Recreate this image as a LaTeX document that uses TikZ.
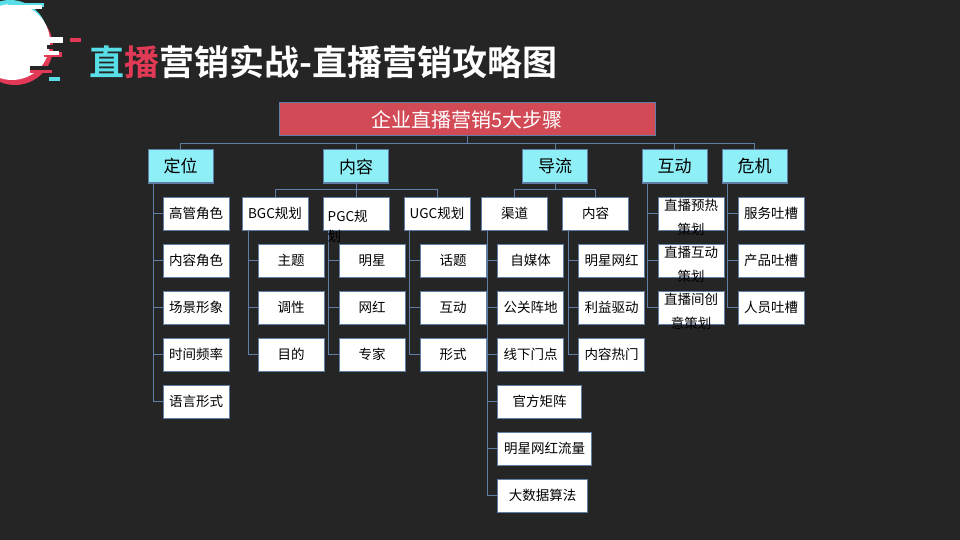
\documentclass[tikz,border=0pt]{standalone}
\usepackage{fontspec}
\setmainfont{Noto Sans CJK SC}[BoldFont={Noto Sans CJK SC Bold}]
\usetikzlibrary{positioning}
\definecolor{bgdark}{RGB}{37,37,37}
\definecolor{rootred}{RGB}{210,74,86}
\definecolor{catcyan}{RGB}{142,240,246}
\definecolor{linkblue}{RGB}{95,125,165}
\definecolor{logocyan}{RGB}{88,222,230}
\definecolor{logored}{RGB}{226,58,86}

\begin{document}
\begin{tikzpicture}[x=1pt, y=-1pt,
    node distance=13pt and 14pt,
    root/.style={draw=linkblue, line width=1pt, fill=rootred, text=white, minimum width=376pt, minimum height=33pt, font=\fontsize{20}{22}\selectfont},
    cat/.style={draw=linkblue, line width=1pt, fill=catcyan, minimum width=65pt, minimum height=33pt, inner sep=1pt, font=\fontsize{17}{20}\selectfont},
    leaf/.style={draw=linkblue, line width=1pt, fill=white, minimum width=66pt, minimum height=33pt, inner sep=1pt, font=\fontsize{13.5}{16}\selectfont},
    wrap/.style={align=center, inner sep=0pt, yshift=-4pt, font=\fontsize{13.5}{24}\selectfont},
    link/.style={draw=linkblue, line width=1pt}]
  \useasboundingbox (0,0) rectangle (960,540);
  \fill[bgdark] (0,0) rectangle (960,540);
  % logo
  \begin{scope}
    \clip (0,0) rectangle (960,540);
    \fill[logored] (15,47) circle (38);
    \fill[logocyan] (10,38) circle (38);
    \fill[white] (12,42) circle (38);
    \fill[logocyan] (8,3) rectangle (44,7);
    \fill[white] (8,5) rectangle (42,9);
    \fill[white] (40,37) rectangle (63,43);
    \fill[logored] (70,38) rectangle (81,42);
    \fill[bgdark] (47,45) rectangle (58,49);
    \fill[logored] (44,52) rectangle (62,57);
    \fill[white] (44,51) rectangle (59,55);
    \fill[bgdark] (30,66) rectangle (56,70);
    \fill[logored] (30,70) rectangle (52,73);
    \fill[logocyan] (49,77) rectangle (60,81);
  \end{scope}
  % title
  \node[anchor=west, inner sep=0pt, text=white, font=\bfseries\fontsize{35}{40}\selectfont] (title) at (89,62)
       {{\color{logocyan}直}{\color{logored}播}营销实战-直播营销攻略图};
  % steps
  \node[root] (root) at (467,119.5) {企业直播营销5大步骤};
  \node[cat] (dw) at (180.5,166.5) {定位};
  \node[cat] (nr) at (356,166.5) {内容};
  \node[cat] (dl) at (555,166.5) {导流};
  \node[cat] (hd) at (674.5,166.5) {互动};
  \node[cat] (wj) at (754.5,166.5) {危机};
  \draw[link] (root.south) -- ++(0pt,-7pt) -| (dw.north);
  \draw[link] (root.south) -- ++(0pt,-7pt) -| (nr.north);
  \draw[link] (root.south) -- ++(0pt,-7pt) -| (dl.north);
  \draw[link] (root.south) -- ++(0pt,-7pt) -| (hd.north);
  \draw[link] (root.south) -- ++(0pt,-7pt) -| (wj.north);
  % 定位
  \node[leaf, below right=13pt and 15pt of dw.south west] (dw1) {高管角色};
  \node[leaf, below=of dw1] (dw2) {内容角色};
  \node[leaf, below=of dw2] (dw3) {场景形象};
  \node[leaf, below=of dw3] (dw4) {时间频率};
  \node[leaf, below=of dw4] (dw5) {语言形式};
  \draw[link] ([xshift=6pt]dw.south west) |- (dw1.west);
  \draw[link] ([xshift=6pt]dw.south west) |- (dw2.west);
  \draw[link] ([xshift=6pt]dw.south west) |- (dw3.west);
  \draw[link] ([xshift=6pt]dw.south west) |- (dw4.west);
  \draw[link] ([xshift=6pt]dw.south west) |- (dw5.west);
  % 内容
  \node[leaf, below=of nr] (pgc) {};
  \node[leaf, left=of pgc] (bgc) {BGC规划};
  \node[leaf, right=of pgc] (ugc) {UGC规划};
  \draw[link] (nr.south) -- ++(0pt,-6pt) -| (bgc.north);
  \draw[link] (nr.south) -- (pgc.north);
  \draw[link] (nr.south) -- ++(0pt,-6pt) -| (ugc.north);
  \node[leaf, below right=13pt and 16pt of bgc.south west] (bgc1) {主题};
  \node[leaf, below=of bgc1] (bgc2) {调性};
  \node[leaf, below=of bgc2] (bgc3) {目的};
  \draw[link] ([xshift=7pt]bgc.south west) |- (bgc1.west);
  \draw[link] ([xshift=7pt]bgc.south west) |- (bgc2.west);
  \draw[link] ([xshift=7pt]bgc.south west) |- (bgc3.west);
  \node[leaf, below right=13pt and 16pt of pgc.south west] (pgc1) {明星};
  \node[leaf, below=of pgc1] (pgc2) {网红};
  \node[leaf, below=of pgc2] (pgc3) {专家};
  \draw[link] ([xshift=6pt]pgc.south west) |- (pgc1.west);
  \draw[link] ([xshift=6pt]pgc.south west) |- (pgc2.west);
  \draw[link] ([xshift=6pt]pgc.south west) |- (pgc3.west);
  \node[wrap, align=left, anchor=north west, yshift=0pt, font=\fontsize{13.5}{20}\selectfont] (pgct)
       at ([xshift=5pt,yshift=-10pt]pgc.north west) {PGC规\\划};
  \node[leaf, below right=13pt and 16pt of ugc.south west] (ugc1) {话题};
  \node[leaf, below=of ugc1] (ugc2) {互动};
  \node[leaf, below=of ugc2] (ugc3) {形式};
  \draw[link] ([xshift=6pt]ugc.south west) |- (ugc1.west);
  \draw[link] ([xshift=6pt]ugc.south west) |- (ugc2.west);
  \draw[link] ([xshift=6pt]ugc.south west) |- (ugc3.west);
  % 导流
  \node[leaf, below left=13pt and 7pt of dl.south] (qd) {渠道};
  \node[leaf, right=of qd] (dnr) {内容};
  \draw[link] (dl.south) -- ++(0pt,-6pt) -| (qd.north);
  \draw[link] (dl.south) -- ++(0pt,-6pt) -| (dnr.north);
  \node[leaf, below right=13pt and 16pt of qd.south west] (qd1) {自媒体};
  \node[leaf, below=of qd1] (qd2) {公关阵地};
  \node[leaf, below=of qd2] (qd3) {线下门点};
  \node[leaf, minimum width=84pt, below=of qd3.south west, anchor=north west] (qd4) {官方矩阵};
  \node[leaf, minimum width=94pt, below=of qd4.south west, anchor=north west] (qd5) {明星网红流量};
  \node[leaf, minimum width=90pt, below=of qd5.south west, anchor=north west] (qd6) {大数据算法};
  \draw[link] ([xshift=6pt]qd.south west) |- (qd1.west);
  \draw[link] ([xshift=6pt]qd.south west) |- (qd2.west);
  \draw[link] ([xshift=6pt]qd.south west) |- (qd3.west);
  \draw[link] ([xshift=6pt]qd.south west) |- (qd4.west);
  \draw[link] ([xshift=6pt]qd.south west) |- (qd5.west);
  \draw[link] ([xshift=6pt]qd.south west) |- (qd6.west);
  \node[leaf, below right=13pt and 16pt of dnr.south west] (dnr1) {明星网红};
  \node[leaf, below=of dnr1] (dnr2) {利益驱动};
  \node[leaf, below=of dnr2] (dnr3) {内容热门};
  \draw[link] ([xshift=6pt]dnr.south west) |- (dnr1.west);
  \draw[link] ([xshift=6pt]dnr.south west) |- (dnr2.west);
  \draw[link] ([xshift=6pt]dnr.south west) |- (dnr3.west);
  % 互动
  \node[leaf, below right=13pt and 16pt of hd.south west] (hd1) {};
  \node[leaf, below=of hd1] (hd2) {};
  \node[leaf, below=of hd2] (hd3) {};
  \node[wrap] (hd1t) at (hd1) {直播预热\\策划};
  \node[wrap] (hd2t) at (hd2) {直播互动\\策划};
  \node[wrap] (hd3t) at (hd3) {直播间创\\意策划};
  \draw[link] ([xshift=6pt]hd.south west) |- (hd1.west);
  \draw[link] ([xshift=6pt]hd.south west) |- (hd2.west);
  \draw[link] ([xshift=6pt]hd.south west) |- (hd3.west);
  % 危机
  \node[leaf, below right=13pt and 16pt of wj.south west] (wj1) {服务吐槽};
  \node[leaf, below=of wj1] (wj2) {产品吐槽};
  \node[leaf, below=of wj2] (wj3) {人员吐槽};
  \draw[link] ([xshift=6pt]wj.south west) |- (wj1.west);
  \draw[link] ([xshift=6pt]wj.south west) |- (wj2.west);
  \draw[link] ([xshift=6pt]wj.south west) |- (wj3.west);
\end{tikzpicture}
\end{document}
